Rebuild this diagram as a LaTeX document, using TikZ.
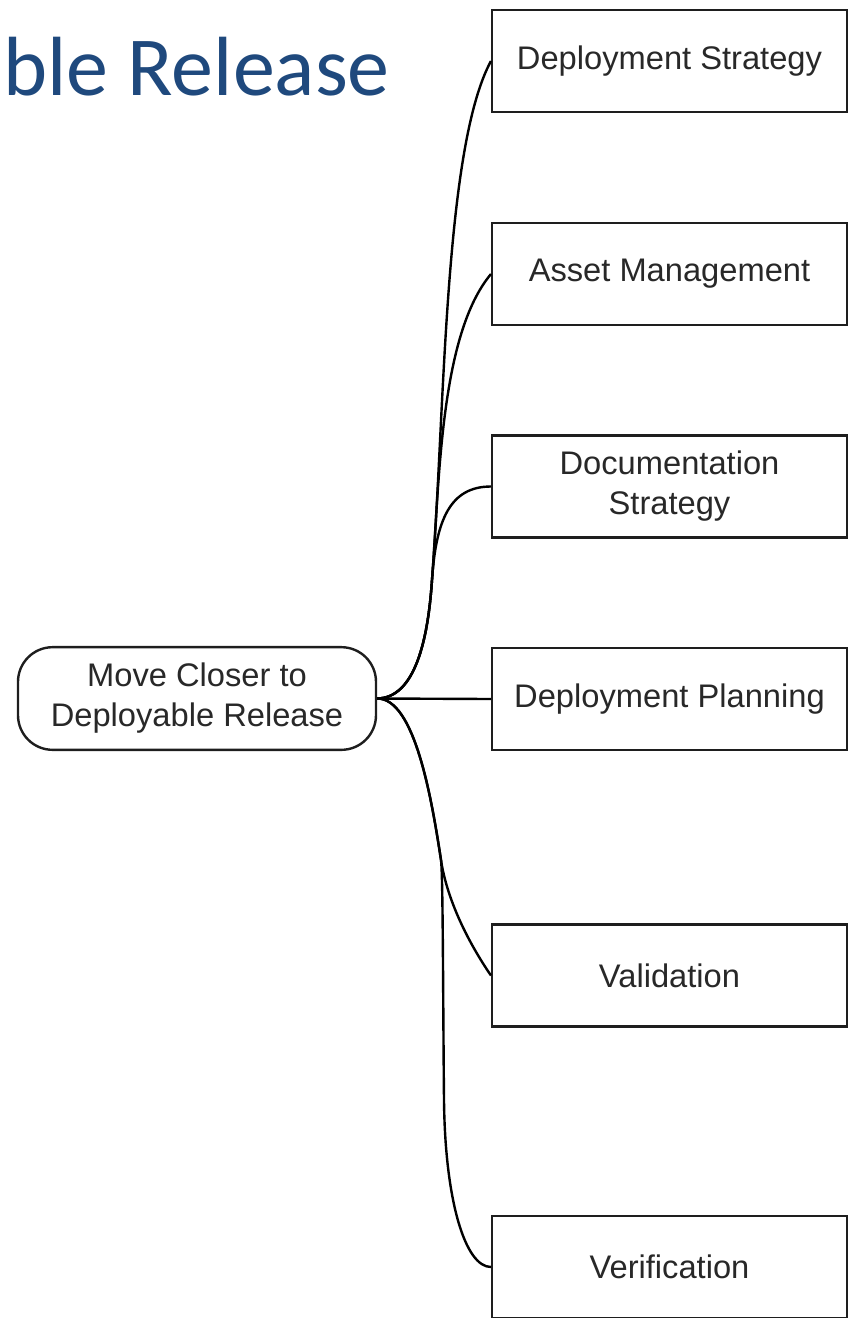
\documentclass[tikz,border=0pt]{standalone}
\usepackage{fontspec}
\setmainfont{Liberation Sans}
\newfontfamily\titlefont{Carlito}
\definecolor{titleblue}{RGB}{31,73,125}
\definecolor{ink}{RGB}{30,30,30}
\definecolor{txt}{RGB}{40,40,40}
\begin{document}
\begin{tikzpicture}[x=0.75pt,y=-0.75pt,
  leaf/.style={draw=ink,line width=1.8pt,minimum width=266pt,minimum height=76.5pt,
    inner sep=0pt,align=center,text=txt,font=\fontsize{24.5}{30}\selectfont},
  rootbox/.style={leaf,rounded corners=26pt,minimum width=268.5pt,minimum height=77pt},
  link/.style={draw=black,line width=1.8pt}]
\useasboundingbox (0,0) rectangle (854,1318);
\node[anchor=base east,inner sep=0pt,text=titleblue,font=\titlefont\fontsize{63}{70}\selectfont] (title) at (390,95) {ble Release};
\node[rootbox] (root) at (197,698.5) {Move Closer to\\Deployable Release};
\node[leaf] (ds) at (669.5,61) {Deployment Strategy};
\node[leaf] (am) at (669.5,274) {Asset Management};
\node[leaf] (doc) at (669.5,486.5) {Documentation\\Strategy};
\node[leaf] (dp) at (669.5,699) {Deployment Planning};
\node[leaf] (val) at (669.5,975.5) {Validation};
\node[leaf] (ver) at (669.5,1267) {Verification};
\draw[link] (root.east) .. controls (415,698) and (428,640) .. (432,580)
  .. controls (445,410) and (444,148) .. (ds.west);
\draw[link] (root.east) .. controls (415,698) and (428,640) .. (432,580)
  .. controls (439.5,480) and (440,335) .. (am.west);
\draw[link] (root.east) .. controls (415,698) and (428,640) .. (432,580)
  .. controls (436,520) and (450,486.5) .. (doc.west);
\draw[link] (root.east) -- (dp.west);
\draw[link] (root.east) .. controls (415,698) and (432,801) .. (441,860)
  .. controls (447,900) and (468.4,942.6) .. (val.west);
\draw[link] (root.east) .. controls (415,698) and (432,801) .. (441,860)
  .. controls (443,875) and (443,1000) .. (444,1100)
  .. controls (445,1200) and (465,1267) .. (ver.west);
\end{tikzpicture}
\end{document}
